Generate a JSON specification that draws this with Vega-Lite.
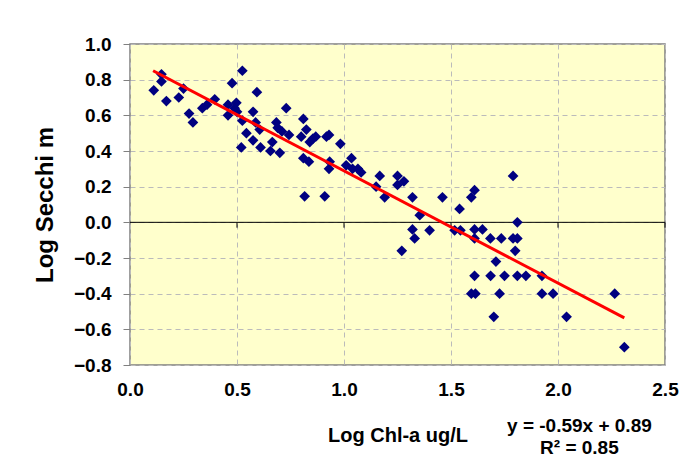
{
  "$schema": "https://vega.github.io/schema/vega-lite/v6.json",
  "width": 535,
  "height": 321,
  "autosize": {"type": "none"},
  "padding": {"left": 130, "top": 44, "right": 28, "bottom": 106},
  "background": "white",
  "config": {
    "view": {"fill": "#FFFFCC", "stroke": "#808080", "strokeWidth": 1.5},
    "font": "Liberation Sans"
  },
  "datasets": {
    "points": [
      {"x":0.111,"y":0.74},{"x":0.147,"y":0.83},{"x":0.147,"y":0.79},{"x":0.17,"y":0.68},{"x":0.228,"y":0.70},
      {"x":0.25,"y":0.75},{"x":0.276,"y":0.61},{"x":0.294,"y":0.56},{"x":0.338,"y":0.64},{"x":0.36,"y":0.66},
      {"x":0.396,"y":0.69},{"x":0.458,"y":0.66},{"x":0.477,"y":0.78},{"x":0.458,"y":0.60},{"x":0.497,"y":0.67},
      {"x":0.489,"y":0.64},{"x":0.50,"y":0.62},{"x":0.525,"y":0.85},{"x":0.525,"y":0.57},{"x":0.52,"y":0.42},
      {"x":0.544,"y":0.50},{"x":0.575,"y":0.62},{"x":0.593,"y":0.73},{"x":0.587,"y":0.56},{"x":0.575,"y":0.46},
      {"x":0.61,"y":0.42},{"x":0.606,"y":0.52},{"x":0.656,"y":0.40},{"x":0.665,"y":0.45},{"x":0.684,"y":0.56},
      {"x":0.70,"y":0.39},{"x":0.69,"y":0.53},{"x":0.71,"y":0.51},{"x":0.73,"y":0.64},{"x":0.743,"y":0.49},
      {"x":0.81,"y":0.58},{"x":0.80,"y":0.48},{"x":0.824,"y":0.52},{"x":0.81,"y":0.36},{"x":0.836,"y":0.34},
      {"x":0.84,"y":0.45},{"x":0.855,"y":0.47},{"x":0.868,"y":0.48},{"x":0.816,"y":0.146},{"x":0.91,"y":0.146},
      {"x":0.918,"y":0.48},{"x":0.93,"y":0.49},{"x":0.933,"y":0.34},{"x":0.93,"y":0.30},{"x":0.983,"y":0.44},
      {"x":1.01,"y":0.32},{"x":1.035,"y":0.36},{"x":1.04,"y":0.30},{"x":1.065,"y":0.30},{"x":1.08,"y":0.28},
      {"x":1.15,"y":0.20},{"x":1.167,"y":0.26},{"x":1.19,"y":0.14},{"x":1.25,"y":0.26},{"x":1.25,"y":0.21},
      {"x":1.28,"y":0.23},{"x":1.32,"y":0.14},{"x":1.46,"y":0.14},{"x":1.354,"y":0.04},{"x":1.32,"y":-0.04},
      {"x":1.33,"y":-0.09},{"x":1.40,"y":-0.045},{"x":1.27,"y":-0.16},{"x":1.54,"y":0.075},{"x":1.595,"y":0.14},
      {"x":1.61,"y":0.18},{"x":1.79,"y":0.26},{"x":1.81,"y":0.0},{"x":1.517,"y":-0.045},{"x":1.544,"y":-0.045},
      {"x":1.61,"y":-0.04},{"x":1.647,"y":-0.04},{"x":1.61,"y":-0.09},{"x":1.684,"y":-0.09},{"x":1.735,"y":-0.09},
      {"x":1.79,"y":-0.09},{"x":1.81,"y":-0.09},{"x":1.80,"y":-0.16},{"x":1.71,"y":-0.22},{"x":1.61,"y":-0.30},
      {"x":1.685,"y":-0.30},{"x":1.75,"y":-0.30},{"x":1.81,"y":-0.30},{"x":1.85,"y":-0.30},{"x":1.925,"y":-0.30},
      {"x":1.595,"y":-0.40},{"x":1.614,"y":-0.40},{"x":1.727,"y":-0.40},{"x":1.925,"y":-0.40},{"x":1.977,"y":-0.40},
      {"x":1.70,"y":-0.53},{"x":2.04,"y":-0.53},{"x":2.265,"y":-0.40},{"x":2.31,"y":-0.70}
    ],
    "trend": [{"x":0.108,"y":0.85},{"x":2.31,"y":-0.536}],
    "zticks": [{"x":0.5},{"x":1.0},{"x":1.5},{"x":2.0},{"x":2.5}],
    "labels": [{"x":2.1,"y":-1.14,"label":"y = -0.59x + 0.89"},{"x":2.1,"y":-1.265,"label":"R² = 0.85"}]
  },
  "layer": [
    {
      "data": {"name": "points"},
      "mark": {"type": "point", "shape": "diamond", "filled": true, "size": 115, "color": "#000080", "opacity": 0},
      "encoding": {
        "x": {"field": "x", "type": "quantitative",
          "scale": {"domain": [0, 2.5], "nice": false, "zero": false},
          "axis": {"values": [0, 0.5, 1, 1.5, 2, 2.5], "tickCount": 20, "format": ".1f", "title": "Log Chl-a ug/L",
            "grid": true, "gridDash": [5, 4], "gridColor": "#BBBBBB", "gridWidth": 1,
            "ticks": false, "domain": false, "labelFlush": false, "labelOverlap": false,
            "labelFont": "Liberation Sans", "labelFontSize": 19, "labelFontWeight": "bold", "labelColor": "black",
            "labelPadding": 15, "titleFont": "Liberation Sans", "titleFontSize": 20, "titleFontWeight": "bold",
            "titleColor": "black", "titlePadding": 26}},
        "y": {"field": "y", "type": "quantitative",
          "scale": {"domain": [-0.8, 1.0], "nice": false, "zero": false},
          "axis": {"values": [-0.8, -0.6, -0.4, -0.2, 0, 0.2, 0.4, 0.6, 0.8, 1.0], "tickCount": 20, "format": ".1f", "title": "Log Secchi m",
            "grid": true, "gridDash": [5, 4], "gridColor": "#BBBBBB", "gridWidth": 1,
            "ticks": true, "tickColor": "#808080", "tickSize": 7, "domain": false, "labelFlush": false, "labelOverlap": false,
            "labelFont": "Liberation Sans", "labelFontSize": 19, "labelFontWeight": "bold", "labelColor": "black",
            "labelPadding": 12, "titleFont": "Liberation Sans", "titleFontSize": 24, "titleFontWeight": "bold",
            "titleColor": "black", "titlePadding": 16}}
      }
    },
    {
      "data": {"values": [{"y": 0}]},
      "mark": {"type": "rule", "color": "black", "strokeWidth": 1},
      "encoding": {"y": {"field": "y", "type": "quantitative"}}
    },
    {
      "data": {"name": "zticks"},
      "mark": {"type": "rule", "color": "black", "strokeWidth": 1},
      "encoding": {"x": {"field": "x", "type": "quantitative"}, "y": {"datum": 0}, "y2": {"datum": -0.03}}
    },
    {
      "data": {"name": "points"},
      "mark": {"type": "point", "shape": "diamond", "filled": true, "size": 115, "color": "#000080", "opacity": 1},
      "encoding": {"x": {"field": "x", "type": "quantitative"}, "y": {"field": "y", "type": "quantitative"}}
    },
    {
      "data": {"name": "trend"},
      "mark": {"type": "line", "color": "#FF0000", "strokeWidth": 3},
      "encoding": {"x": {"field": "x", "type": "quantitative"}, "y": {"field": "y", "type": "quantitative"}}
    },
    {
      "data": {"name": "labels"},
      "mark": {"type": "text", "font": "Liberation Sans", "fontSize": 19, "fontWeight": "bold", "color": "black", "align": "center", "baseline": "middle"},
      "encoding": {"x": {"field": "x", "type": "quantitative"}, "y": {"field": "y", "type": "quantitative"}, "text": {"field": "label"}}
    }
  ]
}
